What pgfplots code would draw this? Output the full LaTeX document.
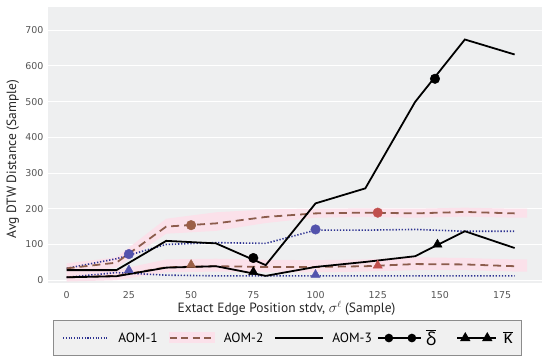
\documentclass[border=0pt]{standalone}
\usepackage{pgfplots}
\pgfplotsset{compat=1.18}
\usepackage{pgfplotstable}
\usepgfplotslibrary{fillbetween}
\usepackage{fontspec}
\setmainfont{PT Sans}
\newfontfamily\grk{Open Sans}
\newfontfamily\tickfont{DejaVu Sans}
\definecolor{bg}{RGB}{238,239,240}
\definecolor{legbg}{RGB}{240,240,240}
\definecolor{legdraw}{RGB}{140,140,140}
\definecolor{aomblue}{RGB}{45,50,145}
\definecolor{mkblue}{RGB}{82,82,172}
\definecolor{aombrown}{RGB}{140,92,76}
\definecolor{mkbrown}{RGB}{155,95,70}
\definecolor{mkred}{RGB}{192,80,77}
\definecolor{pinkband}{RGB}{251,225,234}
\definecolor{tickgray}{RGB}{85,85,85}

\pgfplotstableread{
x   a1u a1l a2u a2l a3u a3l
0   33  8   33  8   28  8
20  60  21  49  12  28  11
40  100 14  150 36  110 35
60  105 12  159 39  103 39
80  103 12  177 37  42  12
100 140 12  187 37  215 37
120 140 12  189 39  257 51
140 142 12  187 45  499 67
160 137 12  191 44  674 137
180 137 12  187 39  632 90
}\data

\pgfplotstableread{
x   uhi ulo lhi llo
0   47  20  24  -4
20  64  35  28  0
40  172 130 58  22
60  190 138 60  24
80  198 160 57  22
100 200 175 56  22
120 201 177 58  24
140 200 175 64  28
160 203 178 62  28
180 200 175 58  24
185 200 175 58  24
}\band

\begin{document}
\begin{tikzpicture}
\begin{axis}[
  scale only axis, width=494bp, height=276bp,
  xmin=-7.5, xmax=191, ymin=-8, ymax=765,
  axis background/.style={fill=bg},
  axis line style={draw=none},
  xtick={0,25,...,175}, ytick={0,100,...,700},
  ymajorgrids, grid style={white, line width=1pt},
  major tick length=0pt,
  tick label style={font=\tickfont\fontsize{9.5}{10}\selectfont, text=tickgray, /pgf/number format/assume math mode=true},
  xticklabel style={yshift=-5bp},
  yticklabel style={xshift=-1bp},
  xlabel={Extact Edge Position stdv, $\sigma^{\ell}$ (Sample)},
  ylabel={Avg DTW Distance (Sample)},
  label style={font=\fontsize{13.5}{15}\selectfont, text=black!85},
  xlabel style={at={(axis description cs:0.483,-0.093)}, anchor=center},
  ylabel style={at={(axis description cs:-0.071,0.449)}, anchor=center},
  legend columns=5,
  legend cell align=left,
  legend style={at={(0.485,-0.134)}, anchor=north, draw=legdraw, line width=1pt, fill=legbg,
    inner xsep=9bp, inner ysep=7bp, font=\fontsize{13.5}{15}\selectfont,
    nodes={inner xsep=0bp},
    /tikz/every even column/.append style={column sep=0bp},
    /tikz/every odd column/.append style={column sep=0bp}},
]
% pink bands
\addplot[draw=none, name path=uh, forget plot] table[x=x, y=uhi] {\band};
\addplot[draw=none, name path=ul, forget plot] table[x=x, y=ulo] {\band};
\addplot[pinkband, forget plot] fill between[of=uh and ul];
\addplot[draw=none, name path=lh, forget plot] table[x=x, y=lhi] {\band};
\addplot[draw=none, name path=ll, forget plot] table[x=x, y=llo] {\band};
\addplot[pinkband, forget plot] fill between[of=lh and ll];

% AOM-1
\addplot[aomblue, line width=1.6pt, dash pattern=on 1.3pt off 1.8pt, forget plot] table[x=x, y=a1u] {\data};
\addplot[aomblue, line width=1.6pt, dash pattern=on 1.3pt off 1.8pt, forget plot] table[x=x, y=a1l] {\data};
% AOM-2
\addplot[aombrown, line width=1.8pt, dash pattern=on 8pt off 5pt, forget plot] table[x=x, y=a2u] {\data};
\addplot[aombrown, line width=1.8pt, dash pattern=on 8pt off 5pt, forget plot] table[x=x, y=a2l] {\data};
% AOM-3
\addplot[black, line width=1.8pt, forget plot] table[x=x, y=a3u] {\data};
\addplot[black, line width=1.8pt, forget plot] table[x=x, y=a3l] {\data};

% markers delta (circles)
\addplot[only marks, mark=*, mark size=4.8bp, mkblue, forget plot] coordinates {(25,73) (100,142)};
\addplot[only marks, mark=*, mark size=4.8bp, mkbrown, forget plot] coordinates {(50,154)};
\addplot[only marks, mark=*, mark size=4.8bp, mkred, forget plot] coordinates {(125,189)};
\addplot[only marks, mark=*, mark size=4.8bp, black, forget plot] coordinates {(75,62) (148,564)};
% markers kappa (triangles)
\addplot[only marks, mark=triangle*, mark size=5.3bp, mkblue, forget plot] coordinates {(25,28) (100,15)};
\addplot[only marks, mark=triangle*, mark size=5.3bp, mkbrown, forget plot] coordinates {(50,43)};
\addplot[only marks, mark=triangle*, mark size=5.3bp, mkred, forget plot] coordinates {(125,41)};
\addplot[only marks, mark=triangle*, mark size=5.3bp, black, forget plot] coordinates {(75,23) (149,100)};

% legend
\addlegendimage{legend image code/.code={\path[draw=none,fill=none] (0bp,-1bp) rectangle (55bp,1bp);\draw[aomblue, line width=1.3pt, dash pattern=on 1.1pt off 1.6pt] (0bp,0bp) -- (44bp,0bp);}}
\addlegendentry{AOM-1}
\addlegendimage{legend image code/.code={\path[draw=none,fill=none] (-12bp,-1bp) rectangle (54bp,1bp);\fill[pinkband] (0bp,-4bp) rectangle (45bp,6bp);\draw[aombrown, line width=1.6pt, dash pattern=on 7pt off 4.5pt] (0bp,0bp) -- (45bp,0bp);}}
\addlegendentry{AOM-2}
\addlegendimage{legend image code/.code={\path[draw=none,fill=none] (-12bp,-1bp) rectangle (57bp,1bp);\draw[black, line width=1.6pt] (0bp,0bp) -- (48bp,0bp);}}
\addlegendentry{AOM-3}
\addlegendimage{legend image code/.code={\path[draw=none,fill=none] (-6bp,-1bp) rectangle (48bp,1bp);\draw[black, line width=1.3pt] (0bp,0bp) -- (43bp,0bp);\draw[black, only marks, mark=*, mark size=3.8bp] plot coordinates {(11bp,0bp) (34bp,0bp)};}}
\addlegendentry{\fontsize{18}{18}\selectfont$\overline{\mbox{\grk δ}}$}
\addlegendimage{legend image code/.code={\path[draw=none,fill=none] (-21bp,-1bp) rectangle (46bp,1bp);\draw[black, line width=1.3pt] (0bp,0bp) -- (39bp,0bp);\draw[black, only marks, mark=triangle*, mark size=5bp] plot coordinates {(8bp,0bp) (30bp,0bp)};}}
\addlegendentry{\fontsize{18}{18}\selectfont$\overline{\mbox{\grk κ}}$\hspace{16bp}}
\end{axis}
\pgfresetboundingbox
\path (-48bp,-78bp) rectangle (502bp,283bp);
\end{tikzpicture}
\end{document}
